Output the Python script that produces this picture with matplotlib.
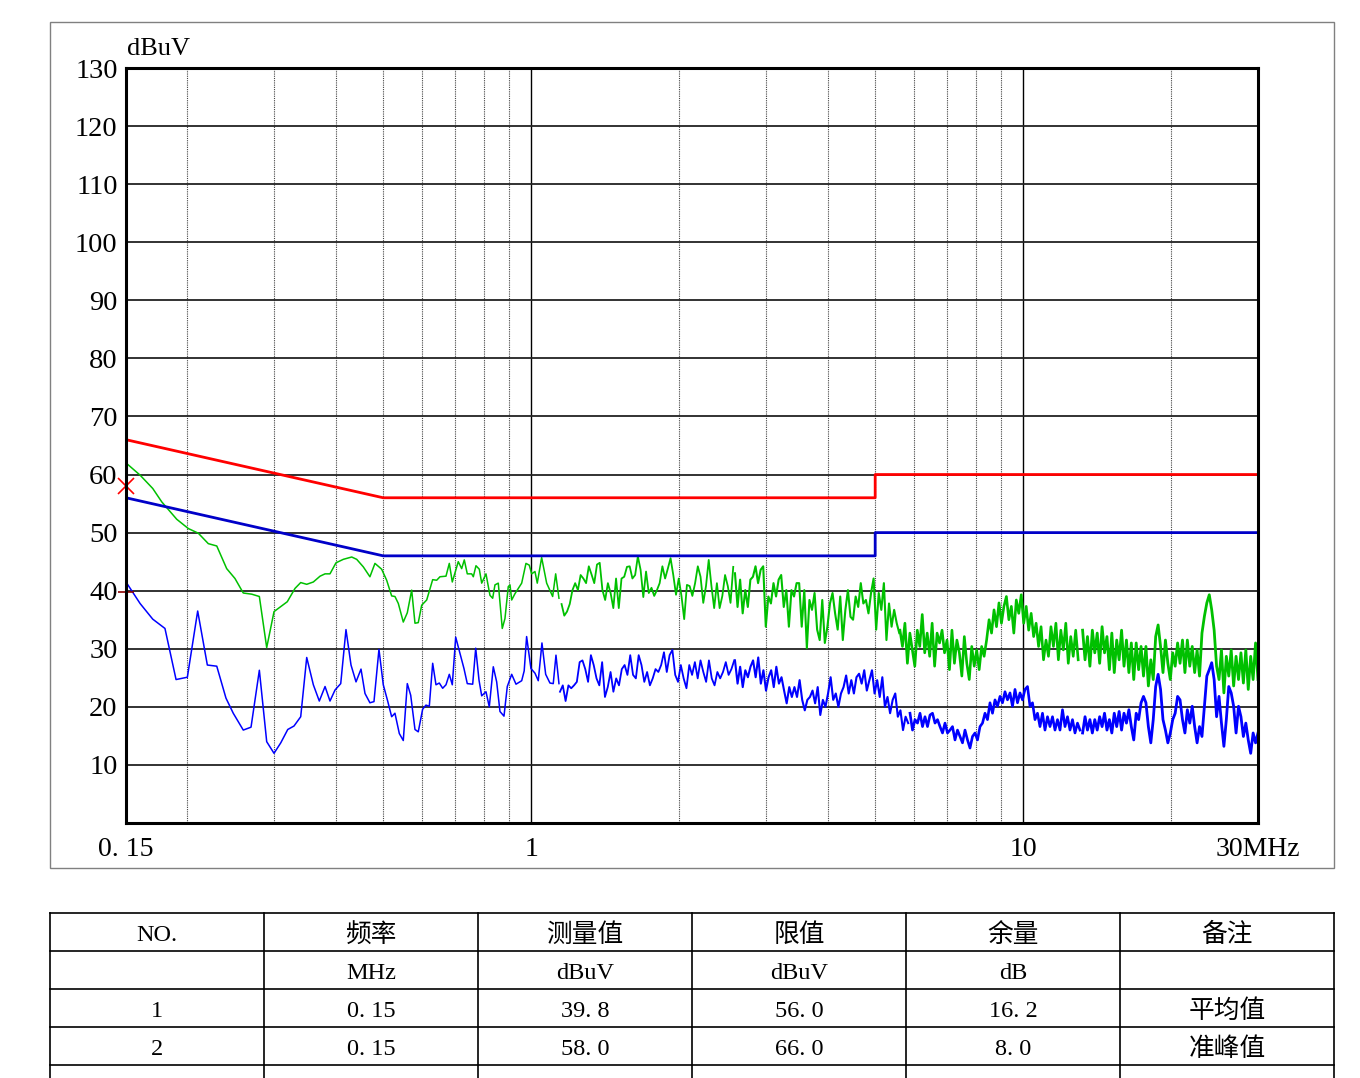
import numpy as np
import matplotlib.pyplot as plt
from matplotlib.patches import Rectangle

# ---- limit lines (MHz, dBuV)
limit_f = [0.15, 0.5, 0.5, 5, 5, 30]
qp_limit = [66, 56, 56, 56, 60, 60]
av_limit = [56, 46, 46, 46, 50, 50]

# ---- peak trace, low band (read point by point)
green_f = [0.150, 0.1602, 0.1700, 0.1773, 0.1902, 0.2008, 0.2104, 0.2205, 0.2294, 0.2403,
           0.2498, 0.2597, 0.2702, 0.2800, 0.2898, 0.2999, 0.3191, 0.3309, 0.3398, 0.3495,
           0.3605, 0.3720, 0.3808, 0.3897, 0.4008, 0.4148, 0.4314, 0.4416, 0.4555, 0.4698,
           0.4810, 0.4963, 0.5081, 0.5201, 0.5282, 0.5366, 0.5492, 0.5596, 0.5712, 0.5801,
           0.5891, 0.5986, 0.6128, 0.6302, 0.6421, 0.6521, 0.6707, 0.6812, 0.6908, 0.7104,
           0.7218, 0.7307, 0.7410, 0.7564, 0.7622, 0.7718, 0.7839, 0.7927, 0.8088, 0.8240,
           0.8345, 0.8435, 0.8567, 0.8728, 0.8839, 0.8977, 0.9050, 0.9122, 0.9265, 0.9559,
           0.9752, 0.9904, 1.0016, 1.0172, 1.0282, 1.0495, 1.0744, 1.1050, 1.1207, 1.1381]
green_v = [62.0, 59.9, 57.6, 55.3, 52.3, 50.7, 49.9, 48.1, 47.7, 43.8,
           42.1, 39.6, 39.4, 39.0, 30.2, 36.4, 38.1, 40.4, 41.4, 41.1,
           41.5, 42.5, 42.9, 42.9, 44.8, 45.4, 45.8, 45.4, 44.1, 42.4,
           44.7, 43.7, 41.8, 39.1, 39.0, 37.8, 34.6, 36.2, 40.1, 34.4,
           34.5, 37.5, 38.4, 41.9, 41.8, 42.4, 42.5, 44.7, 41.5, 45.0,
           43.8, 45.3, 42.9, 42.9, 42.4, 44.3, 43.7, 41.3, 42.9, 39.2,
           38.7, 41.0, 41.3, 33.5, 35.2, 40.7, 41.0, 38.4, 39.5, 41.3,
           44.7, 44.4, 42.9, 43.3, 41.3, 45.7, 41.3, 39.0, 42.9, 38.7]

# ---- peak trace, dense sweep segments (start MHz, stop MHz) and readings
green_seg_edges = [(1.152, 2.573), (2.594, 5.597), (5.615, 12.93), (13.20, 30.0)]
green_seg1 = [37.7, 35.7, 36.4, 37.7, 40.1, 41.3, 40.1, 42.7, 42.1, 41.3, 44.2, 42.8, 41.3, 44.5,
              44.8, 40.1, 38.4, 41.3, 39.6, 37.0, 42.1, 37.0, 42.1, 42.4, 44.1, 44.2, 42.1, 42.7,
              45.9, 43.6, 38.9, 43.3, 39.6, 40.5, 39.1, 40.1, 41.3, 44.2, 42.1, 43.8, 45.6, 42.7,
              39.3, 42.1, 39.1, 35.1, 41.0, 40.8, 39.1, 41.3, 44.2, 42.4, 37.9, 40.8, 45.3, 40.8,
              37.0, 41.3, 37.0, 39.1, 42.7, 40.8, 37.9, 44.1]
green_seg2 = [43.0, 37.2, 41.9, 36.1, 40.1, 37.2, 41.9, 42.4, 44.2, 41.3, 43.6, 44.2, 33.8, 39.0,
              37.8, 41.3, 39.0, 41.9, 42.7, 37.2, 40.1, 33.8, 40.1, 39.0, 41.3, 41.3, 33.8, 40.1,
              30.1, 38.4, 36.7, 39.6, 33.3, 31.5, 38.4, 31.0, 33.8, 37.8, 39.6, 36.1, 33.3, 39.0,
              31.5, 36.7, 40.1, 35.5, 35.0, 39.0, 37.2, 41.3, 37.8, 38.4, 36.1, 39.6, 42.1, 33.3,
              39.6, 36.7, 41.3, 31.5, 37.8, 33.8, 36.7, 34.4, 32.7]
green_seg3 = [33.2, 30.4, 34.4, 27.5, 32.7, 29.8, 27.0, 33.2, 30.4, 35.9, 29.3, 32.7, 28.7, 34.4,
              27.0, 32.7, 31.0, 33.2, 29.3, 31.5, 26.4, 33.2, 27.5, 31.5, 29.3, 25.3, 32.1, 27.5,
              24.7, 30.4, 27.0, 29.8, 26.4, 30.4, 28.7, 31.5, 35.0, 32.7, 36.7, 33.8, 37.9, 34.4,
              37.3, 39.0, 35.0, 37.3, 32.7, 38.4, 36.1, 39.3, 34.4, 37.3, 33.2, 36.1, 32.1, 34.4,
              30.4, 33.8, 28.1, 31.5, 28.7, 33.8, 30.4, 34.4, 28.1, 33.2, 29.8, 34.4, 27.5, 32.1,
              28.7, 33.2, 28.1]
green_seg4 = [33.2, 28.1, 32.1, 27.0, 33.2, 29.3, 32.7, 27.5, 33.8, 29.3, 32.1, 26.4, 32.7, 25.9,
              31.5, 28.1, 33.2, 27.0, 31.5, 25.9, 31.0, 24.7, 31.0, 26.4, 30.4, 25.3, 30.4, 23.6,
              28.1, 24.7, 32.1, 34.1, 30.4, 25.9, 31.5, 27.5, 24.7, 29.3, 27.0, 31.0, 27.5, 31.5,
              25.9, 31.5, 27.0, 30.4, 25.9, 29.8, 25.3, 32.7, 35.6, 37.9, 39.3, 36.7, 33.2, 27.0,
              24.7, 29.8, 22.4, 28.7, 25.3, 29.8, 23.6, 28.7, 24.7, 29.3, 24.1, 29.8, 23.0, 28.7,
              24.7, 31.0, 24.7]

# ---- average trace, low band
blue_f = [0.150, 0.1602, 0.1700, 0.1800, 0.1896, 0.1999, 0.2098, 0.2195, 0.2294, 0.2395,
          0.2478, 0.2597, 0.2693, 0.2800, 0.2898, 0.2999, 0.3095, 0.3198, 0.3293, 0.3398,
          0.3495, 0.3605, 0.3707, 0.3808, 0.3897, 0.3990, 0.4098, 0.4200, 0.4300, 0.4402,
          0.4506, 0.4591, 0.4698, 0.4788, 0.4901, 0.5001, 0.5105, 0.5201, 0.5282, 0.5391,
          0.5492, 0.5596, 0.5686, 0.5801, 0.5891, 0.6013, 0.6107, 0.6203, 0.6302, 0.6400,
          0.6500, 0.6604, 0.6707, 0.6812, 0.6908, 0.7019, 0.7161, 0.7296, 0.7410, 0.7600,
          0.7708, 0.7828, 0.7927, 0.8088, 0.8214, 0.8369, 0.8503, 0.8635, 0.8799, 0.8936,
          0.9122, 0.9308, 0.9559, 0.9672, 0.9782, 0.9982, 1.0172, 1.0330, 1.0510, 1.0695,
          1.0911, 1.1081, 1.1223, 1.1381]
blue_v = [41.5, 37.8, 35.1, 33.5, 24.7, 25.1, 36.5, 27.2, 27.0, 21.5,
          18.9, 16.0, 16.5, 26.3, 14.0, 12.0, 13.8, 16.1, 16.7, 18.3,
          28.5, 23.8, 21.0, 23.5, 21.0, 22.9, 24.0, 33.3, 27.2, 24.3,
          26.5, 22.3, 20.7, 20.9, 29.9, 23.8, 21.0, 18.3, 18.9, 15.4,
          14.2, 24.0, 22.0, 16.1, 15.7, 19.6, 20.3, 20.1, 27.5, 23.8,
          24.1, 23.2, 23.8, 25.6, 23.8, 32.0, 29.2, 26.6, 24.0, 23.9,
          30.1, 24.6, 21.9, 22.6, 20.0, 26.9, 24.3, 19.2, 18.4, 23.5,
          25.6, 23.9, 24.5, 26.2, 32.1, 26.6, 25.8, 24.5, 31.0, 25.6,
          24.1, 24.0, 28.9, 24.0]

blue_seg_edges = [(1.1435, 2.585), (2.594, 5.835), (5.885, 13.04), (13.20, 30.0)]
blue_seg1 = [22.6, 23.7, 21.0, 23.7, 23.2, 23.7, 24.3, 27.7, 28.0, 26.5, 24.3, 28.9, 27.2, 24.9,
             23.7, 27.7, 21.7, 23.4, 26.0, 22.6, 24.9, 23.7, 26.5, 27.2, 25.5, 28.9, 25.5, 24.9,
             28.9, 27.2, 24.3, 26.0, 23.7, 24.9, 26.5, 26.0, 27.2, 29.4, 26.0, 28.9, 29.8, 25.5,
             24.3, 27.2, 24.9, 23.2, 27.2, 25.5, 27.7, 24.9, 28.0, 26.0, 24.3, 28.0, 24.9, 23.7,
             26.0, 24.9, 26.0, 27.7, 25.5, 26.5, 28.0]
blue_seg2 = [28.0, 24.0, 26.9, 23.4, 26.3, 25.1, 26.9, 28.0, 25.1, 28.5, 24.0, 26.3, 22.8, 25.1,
             26.3, 23.4, 26.9, 24.0, 25.1, 22.8, 20.6, 23.4, 21.7, 23.4, 21.7, 24.6, 21.2, 19.4,
             21.2, 21.7, 22.8, 20.6, 23.4, 18.6, 21.2, 20.0, 22.3, 25.1, 21.2, 22.3, 20.0, 22.3,
             23.4, 25.4, 22.3, 24.6, 22.3, 25.1, 25.7, 24.0, 26.3, 22.8, 24.6, 26.3, 22.3, 24.6,
             21.7, 25.1, 20.0, 21.7, 18.9, 21.2, 22.3, 18.3, 19.4, 16.0, 18.3, 17.2]
blue_seg3 = [18.9, 16.0, 17.8, 17.2, 18.9, 16.6, 18.3, 16.6, 18.6, 18.9, 17.2, 17.8, 16.6, 15.5,
             17.2, 15.5, 16.0, 16.6, 14.3, 16.0, 14.9, 13.8, 16.0, 14.3, 12.9, 14.9, 15.5, 14.3,
             16.6, 17.2, 18.9, 17.8, 20.7, 18.9, 21.2, 20.1, 21.8, 20.7, 22.6, 21.2, 22.4, 20.1,
             23.0, 20.7, 22.4, 21.2, 23.0, 23.5, 20.1, 20.7, 17.8, 18.9, 16.6, 18.9, 16.0, 18.3,
             16.6, 18.3, 16.0, 17.8, 16.0, 19.5, 16.6, 18.3, 16.0, 17.8, 15.5, 17.2, 16.0]
blue_seg4 = [15.5, 18.3, 16.0, 17.8, 15.5, 17.8, 16.0, 18.3, 16.6, 18.9, 16.0, 17.8, 15.5, 18.9,
             16.6, 19.2, 16.0, 18.9, 17.2, 19.5, 16.6, 14.3, 18.9, 17.8, 20.7, 21.8, 20.7, 16.6,
             13.8, 17.8, 23.5, 25.6, 23.0, 17.8, 16.0, 13.8, 15.5, 17.8, 18.9, 21.8, 21.2, 17.8,
             15.5, 19.5, 17.2, 20.1, 16.6, 13.8, 16.6, 14.9, 20.1, 25.3, 26.4, 27.6, 24.7, 18.3,
             21.8, 17.2, 13.2, 17.8, 23.5, 22.4, 20.1, 15.5, 20.1, 18.3, 14.9, 17.2, 14.3, 12.0,
             15.5, 13.8, 15.5]

# ---- final measurements
meas_f = [0.15, 0.15]
meas_av = 39.8
meas_qp = 58.0

# ---- table
col_heads = ["NO.", "频率", "测量值", "限值", "余量", "备注"]
col_units = ["", "MHz", "dBuV", "dBuV", "dB", ""]
table_rows = [["1", "0. 15", "39. 8", "56. 0", "16. 2", "平均值"],
              ["2", "0. 15", "58. 0", "66. 0", "8. 0", "准峰值"]]

# ---- axis ticks
x_ticks = [0.15, 1, 10, 30]
x_ticklabels = ["0. 15", "1", "10", "30MHz"]
y_ticks = [10, 20, 30, 40, 50, 60, 70, 80, 90, 100, 110, 120, 130]
minor_f = [0.2, 0.3, 0.4, 0.5, 0.6, 0.7, 0.8, 0.9, 2, 3, 4, 5, 6, 7, 8, 9, 20]
major_f = [1, 10]

SERIF = ["Liberation Serif", "DejaVu Serif"]
CJK = ["Liberation Serif", "Noto Sans CJK SC", "DejaVu Sans"]

W, H = 1360, 1078
fig = plt.figure(figsize=(W / 100, H / 100), dpi=100)

# outer frame round the chart
fig.add_artist(Rectangle((50 / W, 1 - 868 / H), (1334 - 50) / W, (868 - 22) / H,
                         transform=fig.transFigure, fill=False, ec="#808080", lw=1.0))

ax = fig.add_axes([126 / W, 1 - 823 / H, (1258 - 126) / W, (823 - 68) / H])
ax.set_xscale("log")
ax.set_xlim(0.15, 30)
ax.set_ylim(0, 130)

for f in minor_f:
    ax.axvline(f, color="#444444", lw=0.8, ls=(0, (1, 1)), zorder=1)
for f in major_f:
    ax.axvline(f, color="black", lw=1.0, zorder=1)
for v in y_ticks[:-1]:
    ax.axhline(v, color="#222222", lw=1.3, zorder=1)

# the sweep gets denser with frequency, so later segments look thicker
seg_lw = [1.3, 1.5, 1.9, 2.0]

ax.plot(green_f, green_v, color="#00C000", lw=1.1, zorder=3)
for (f0, f1), seg, lw in zip(green_seg_edges, [green_seg1, green_seg2, green_seg3, green_seg4], seg_lw):
    ax.plot(np.geomspace(f0, f1, len(seg)), seg, color="#00C000", lw=lw, zorder=3)

ax.plot(blue_f, blue_v, color="#0000FF", lw=1.1, zorder=4)
for (f0, f1), seg, lw in zip(blue_seg_edges, [blue_seg1, blue_seg2, blue_seg3, blue_seg4], seg_lw):
    ax.plot(np.geomspace(f0, f1, len(seg)), seg, color="#0000FF", lw=lw, zorder=4)

ax.plot(limit_f, qp_limit, color="#FF0000", lw=2.0, zorder=5)
ax.plot(limit_f, av_limit, color="#0000C8", lw=2.0, zorder=5)

ax.plot(meas_f[0], meas_qp, marker="x", color="#FF0000", ms=11, mew=1.2, zorder=6, clip_on=False)
ax.plot(meas_f[1], meas_av, marker="+", color="#8B0000", ms=12, mew=1.2, zorder=6, clip_on=False)

ax.set_xticks(x_ticks)
ax.set_xticklabels(x_ticklabels, family=SERIF, fontsize=20)
ax.minorticks_off()
ax.set_yticks(y_ticks)
ax.set_yticklabels([str(v) for v in y_ticks], family=SERIF, fontsize=20.5)
ax.tick_params(axis="both", length=0)
ax.tick_params(axis="y", pad=6)
ax.tick_params(axis="x", pad=10)
for s in ax.spines.values():
    s.set_linewidth(2.2)
    s.set_zorder(7)

ax.annotate("dBuV", xy=(0, 1), xycoords="axes fraction", xytext=(1, 6),
            textcoords="offset points", ha="left", va="bottom", family=SERIF, fontsize=19)

# ---- table under the chart
tax = fig.add_axes([50 / W, 0, (1334 - 50) / W, (H - 913) / H])
n_rows_visible = (H - 913) / 38.0
tax.set_xlim(0, len(col_heads))
tax.set_ylim(n_rows_visible, 0)
tax.axis("off")
for r in range(5):
    tax.plot([0, len(col_heads)], [r, r], color="black", lw=1.2, clip_on=False)
for c in range(len(col_heads) + 1):
    tax.plot([c, c], [0, n_rows_visible], color="black", lw=1.2, clip_on=False)

rows = [col_heads, col_units] + table_rows
for r, row in enumerate(rows):
    for c, txt in enumerate(row):
        if txt:
            size = 18.5 if any(ord(ch) > 0x2000 for ch in txt) else 17.5
            tax.text(c + 0.5, r + 0.58, txt, ha="center", va="center",
                     family=CJK, fontsize=size)

fig.savefig("out.png", dpi=100)
